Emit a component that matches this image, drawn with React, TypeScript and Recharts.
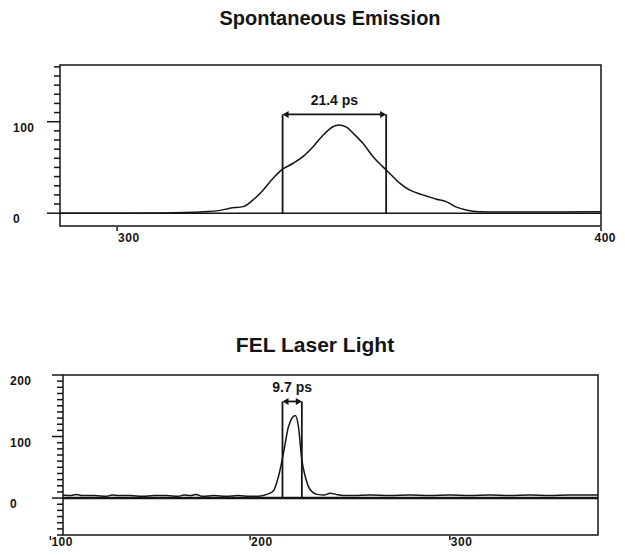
import { LineChart, Line, XAxis, YAxis, ReferenceLine, ReferenceArea } from 'recharts';

// Spontaneous emission pulse (time in ps, signal)
const spontTime = [288.2, 300, 310, 314, 318, 321, 323.3, 326.1, 328.1, 330.2, 332.2, 334, 336.4, 338.4, 340.5, 342.6, 344.6, 345.8, 347.4, 348.8, 350.8, 352.9, 354.9, 356.3, 358.4, 360.4, 363.2, 366, 368, 370.1, 372.1, 374.9, 380, 390, 400];
const spontSignal = [0, 0, 0.3, 0.8, 1.7, 2.8, 5.4, 7.2, 14.5, 25.4, 38, 47.3, 54.6, 61.8, 72.7, 85.5, 94.5, 96.4, 94, 87.3, 76.4, 61.8, 50.9, 43.7, 32.8, 25.4, 20, 15.3, 12.7, 6.6, 3.6, 1.7, 1.2, 1.3, 1.5];
const spontTicksY = [0, 10, 20, 30, 40, 50, 60, 70, 80, 90, 100, 110, 120, 130, 140, 150, 160];
const spontLabelsY = [0, 100];
const spontTicksX = [300, 400];
const spontFwhm = [334.2, 355.6];
const spontFwhmLabel = '21.4 ps';

// FEL laser pulse
const felTime = [106.3, 110, 113, 116, 122, 128, 131, 134, 140, 146, 152, 158, 164, 167, 170, 173, 176, 182, 188, 194, 200, 204, 208.4, 211.7, 214.2, 216.7, 219.2, 222.6, 224.2, 225.9, 227.6, 230.1, 233.5, 237, 240.1, 243, 246.6, 252, 260, 270, 280, 290, 300, 310, 320, 330, 340, 350, 360, 374.2];
const felSignal = [5, 4, 6, 4, 4, 3, 5, 4, 4, 3, 4, 4, 3, 5, 4, 6, 3, 4, 3, 4, 3, 3, 6, 12, 35, 73, 116, 134, 116, 62, 35, 13.5, 6, 5, 8, 6, 4, 4, 5, 4, 5, 4, 5, 4, 5, 4, 5, 4, 5, 5];
const felTicksY = [-60, -50, -40, -30, -20, -10, 0, 10, 20, 30, 40, 50, 60, 70, 80, 90, 100, 110, 120, 130, 140, 150, 160, 170, 180, 190, 200];
const felLabelsY = [0, 100, 200];
const felTicksX = [100, 200, 300];
const felFwhm = [216.2, 225.9];
const felFwhmLabel = '9.7 ps';

const spontData = spontTime.map((t, i) => ({ t, v: spontSignal[i] }));
const felData = felTime.map((t, i) => ({ t, v: felSignal[i] }));

const INK = '#151515';
const tickFont = { fontFamily: '"Liberation Sans", Arial, sans-serif', fontWeight: 700, fontSize: 12, letterSpacing: 0.5 };

// plot edges below are in each chart's own svg coordinates
function makeYTick(plotLeft: number, labels: number[], labelX: number, majorLen: number) {
  return (props: any) => {
    const { y, payload } = props;
    const major = labels.includes(payload.value);
    return (
      <g>
        <line x1={plotLeft - (major ? majorLen : 6)} x2={plotLeft} y1={y} y2={y} stroke={INK} strokeWidth={1.5} />
        {major && (
          <text x={labelX} y={y + 10} textAnchor="start" fill={INK} style={tickFont}>
            {payload.value}
          </text>
        )}
      </g>
    );
  };
}

function makeXTick(plotBottom: number, labelDy: number) {
  return (props: any) => {
    const { x, payload } = props;
    const atEdge = x > 590;
    return (
      <g>
        <line x1={x} x2={x} y1={plotBottom + 1} y2={plotBottom + 5} stroke={INK} strokeWidth={1.5} />
        <text
          x={atEdge ? 616 : x + 1}
          y={plotBottom + labelDy}
          textAnchor={atEdge ? 'end' : 'start'}
          fill={INK}
          style={tickFont}
        >
          {payload.value}
        </text>
      </g>
    );
  };
}

function makeArrow(label: string) {
  return (props: any) => {
    const { x1, y1, x2 } = props;
    const y = y1;
    const h = 6;
    return (
      <g>
        <line x1={x1 + 2} x2={x2 - 2} y1={y} y2={y} stroke={INK} strokeWidth={1.8} />
        <polygon points={`${x1},${y} ${x1 + h},${y - 3.5} ${x1 + h},${y + 3.5}`} fill={INK} />
        <polygon points={`${x2},${y} ${x2 - h},${y - 3.5} ${x2 - h},${y + 3.5}`} fill={INK} />
        <text
          x={(x1 + x2) / 2}
          y={y - 9}
          textAnchor="middle"
          fill={INK}
          style={{ fontFamily: '"Liberation Sans", Arial, sans-serif', fontWeight: 700, fontSize: 14 }}
        >
          {label}
        </text>
      </g>
    );
  };
}

const titleStyle: React.CSSProperties = {
  position: 'absolute',
  fontFamily: '"Liberation Sans", Arial, sans-serif',
  fontWeight: 700,
  color: INK,
  whiteSpace: 'nowrap',
  transform: 'translateX(-50%)',
};

export default function App() {
  return (
    <div style={{ position: 'relative', width: 625, height: 555, margin: -8, background: '#fff' }}>
      <div style={{ ...titleStyle, left: 330, top: 7, fontSize: 20 }}>Spontaneous Emission</div>
      <div style={{ position: 'absolute', left: 0, top: 0 }}>
        <LineChart width={625} height={260} data={spontData} margin={{ top: 65, right: 24, bottom: 0, left: 0 }}>
          <XAxis
            dataKey="t"
            type="number"
            domain={[288.2, 400]}
            ticks={spontTicksX}
            interval={0}
            height={34}
            axisLine={false}
            tickLine={false}
            tick={makeXTick(226, 16)}
          />
          <YAxis
            type="number"
            domain={[-14, 162]}
            ticks={spontTicksY}
            interval={0}
            width={60}
            axisLine={false}
            tickLine={false}
            tick={makeYTick(60, spontLabelsY, 13, 13)}
          />
          <ReferenceArea x1={288.2} x2={400} y1={-14} y2={162} fill="none" stroke={INK} strokeWidth={1.5} />
          <ReferenceLine y={0} stroke={INK} strokeWidth={1.5} />
          <ReferenceLine segment={[{ x: spontFwhm[0], y: 0 }, { x: spontFwhm[0], y: 108 }]} stroke={INK} strokeWidth={1.8} />
          <ReferenceLine segment={[{ x: spontFwhm[1], y: 0 }, { x: spontFwhm[1], y: 108 }]} stroke={INK} strokeWidth={1.8} />
          <ReferenceLine
            segment={[{ x: spontFwhm[0], y: 108 }, { x: spontFwhm[1], y: 108 }]}
            shape={makeArrow(spontFwhmLabel)}
          />
          <Line type="monotone" dataKey="v" stroke={INK} strokeWidth={1.5} dot={false} isAnimationActive={false} />
        </LineChart>
      </div>

      <div style={{ ...titleStyle, left: 315, top: 333, fontSize: 21 }}>FEL Laser Light</div>
      <div style={{ position: 'absolute', left: 0, top: 290 }}>
        <LineChart width={625} height={265} data={felData} margin={{ top: 85, right: 27, bottom: 0, left: 0 }}>
          <XAxis
            dataKey="t"
            type="number"
            domain={[106.3, 374.2]}
            ticks={felTicksX}
            interval={0}
            height={20}
            axisLine={false}
            tickLine={false}
            tick={makeXTick(245, 11)}
          />
          <YAxis
            type="number"
            domain={[-60, 200]}
            ticks={felTicksY}
            interval={0}
            width={63}
            axisLine={false}
            tickLine={false}
            tick={makeYTick(63, felLabelsY, 10, 11)}
          />
          <ReferenceArea x1={106.3} x2={374.2} y1={-60} y2={200} fill="none" stroke={INK} strokeWidth={1.5} />
          <ReferenceLine y={0} stroke={INK} strokeWidth={2.5} />
          <ReferenceLine segment={[{ x: felFwhm[0], y: 0 }, { x: felFwhm[0], y: 157 }]} stroke={INK} strokeWidth={1.8} />
          <ReferenceLine segment={[{ x: felFwhm[1], y: 0 }, { x: felFwhm[1], y: 157 }]} stroke={INK} strokeWidth={1.8} />
          <ReferenceLine
            segment={[{ x: felFwhm[0], y: 157 }, { x: felFwhm[1], y: 157 }]}
            shape={makeArrow(felFwhmLabel)}
          />
          <Line type="monotone" dataKey="v" stroke={INK} strokeWidth={1.5} dot={false} isAnimationActive={false} />
        </LineChart>
      </div>
    </div>
  );
}
